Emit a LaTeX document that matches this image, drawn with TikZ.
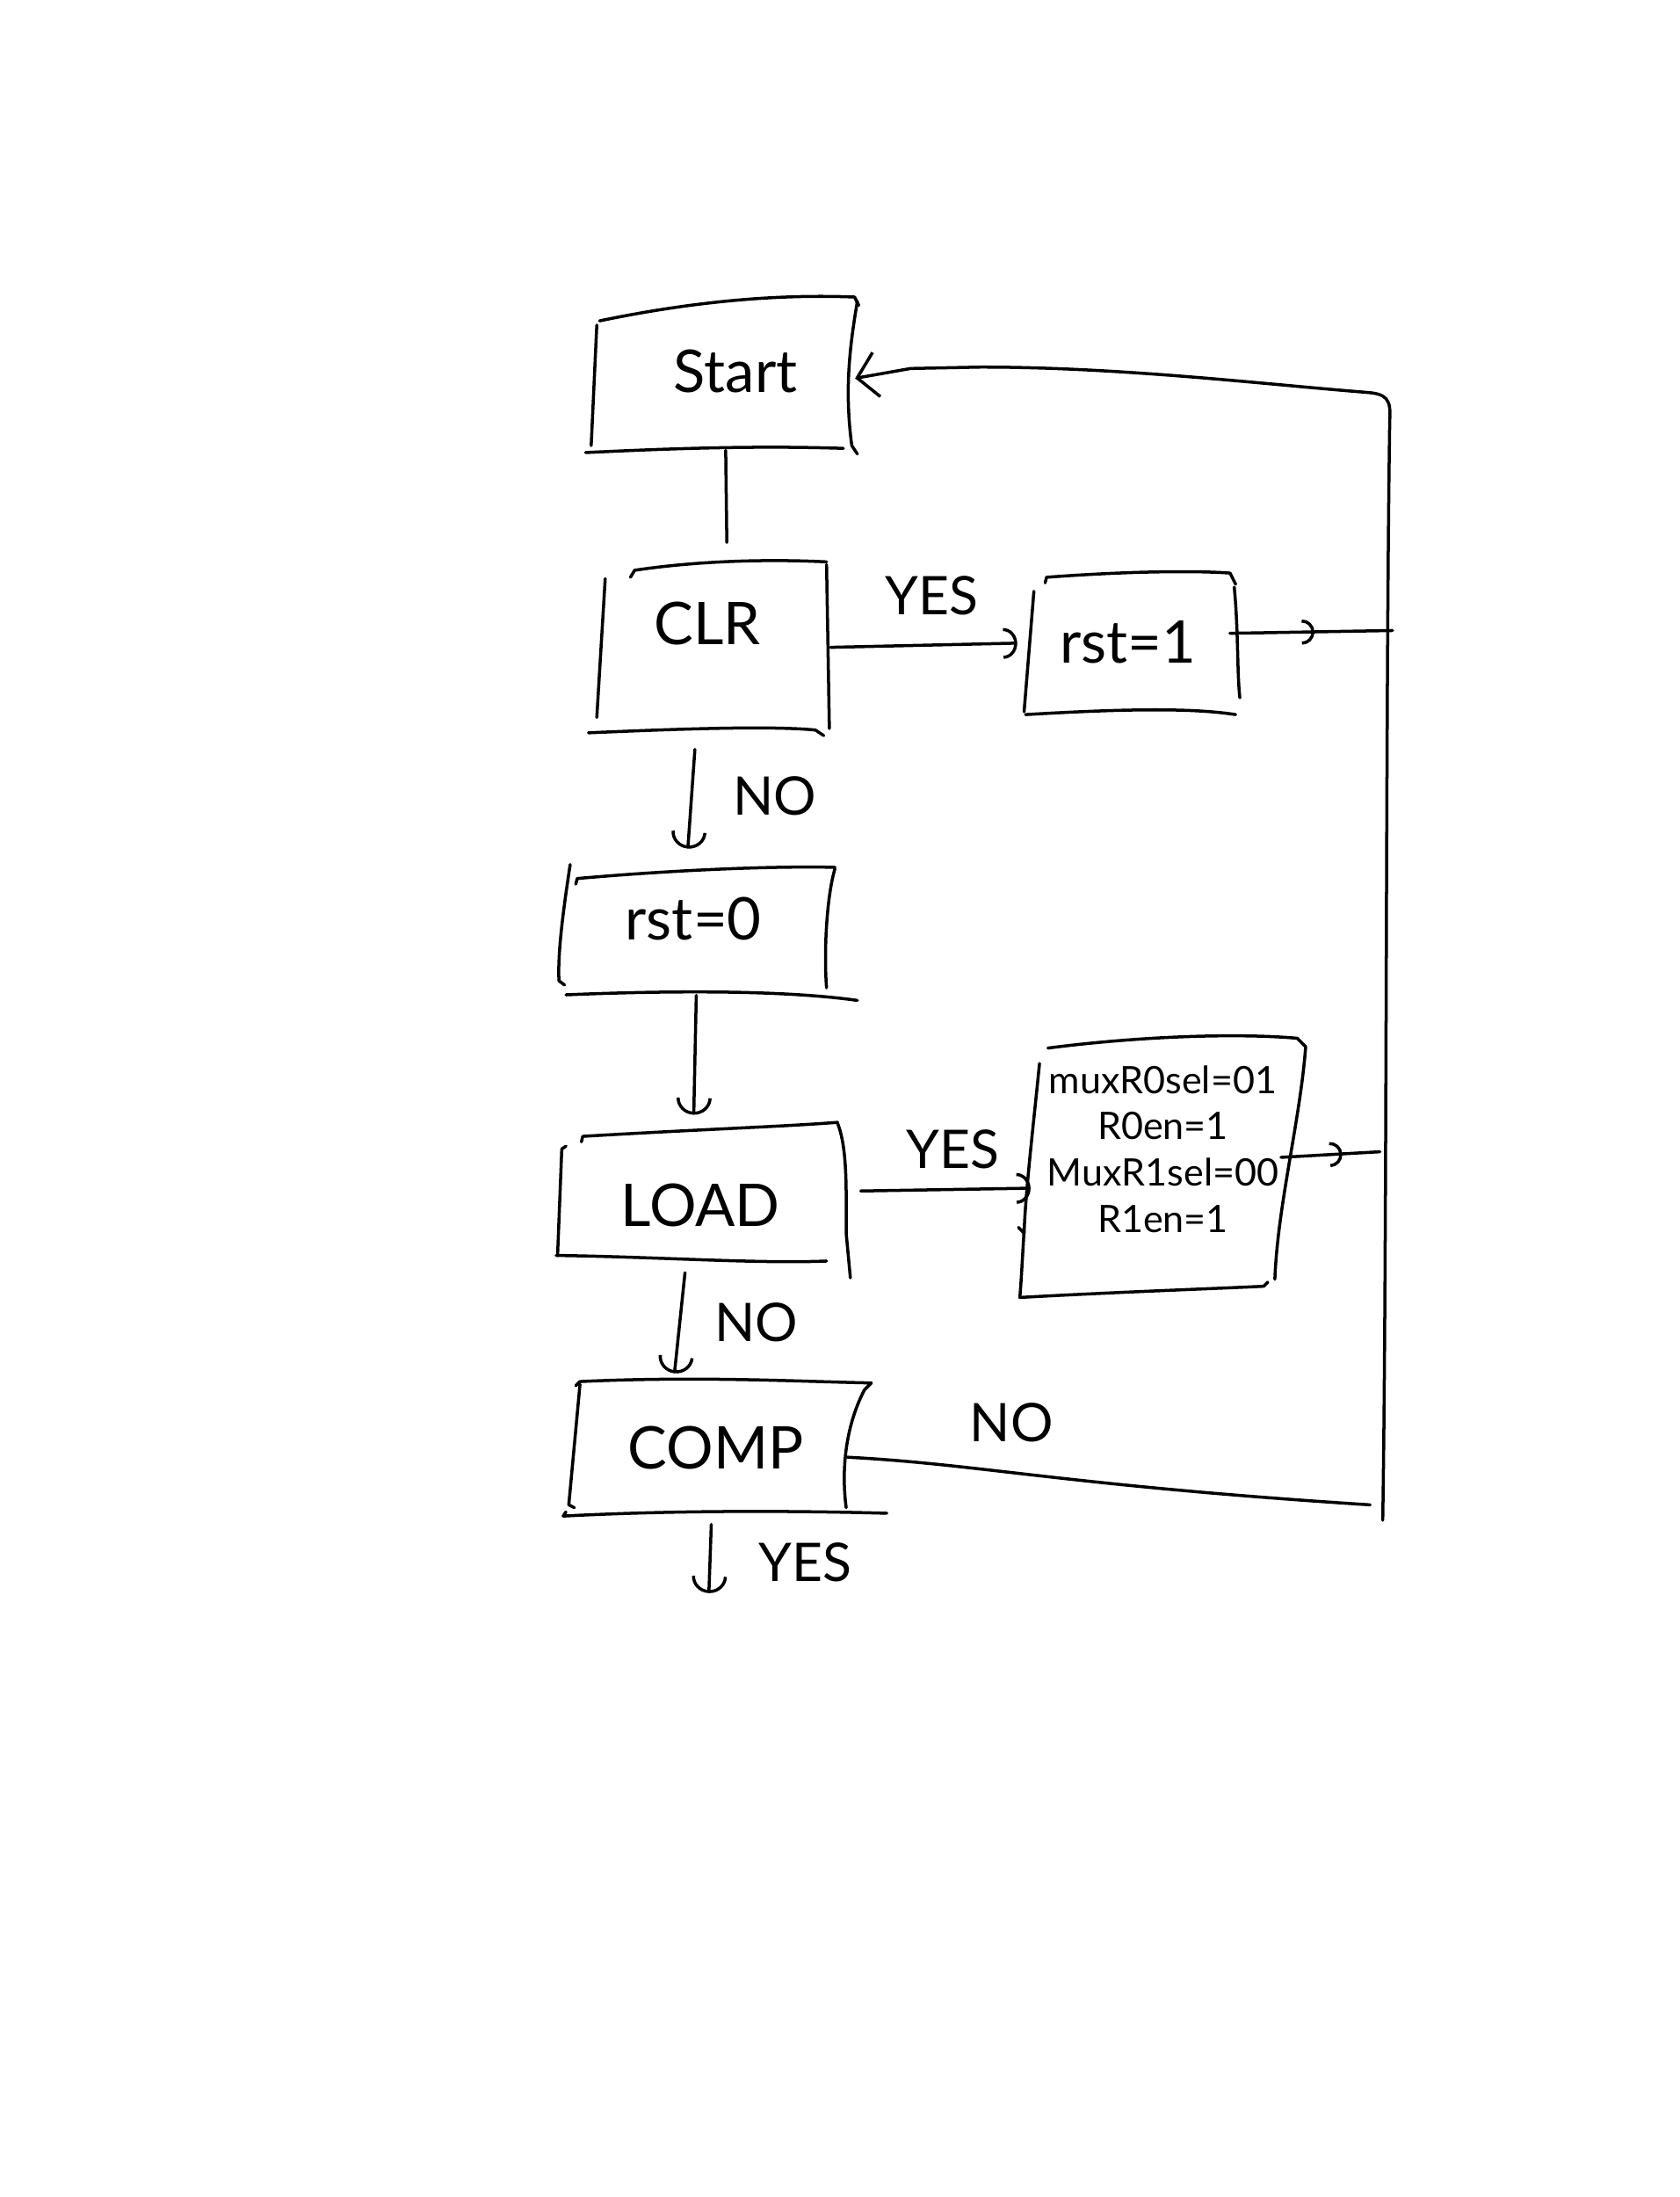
\documentclass[tikz,border=0pt]{standalone}
\usepackage{fontspec}
\setmainfont{Lato}
\usetikzlibrary{arrows.meta,decorations.markings,calc}
\begin{document}
\begin{tikzpicture}[x=0.5pt,y=-0.5pt,
  sk/.style={line width=1.1pt, line cap=round, line join=round},
  arr/.style={sk, -{Arc Barb[length=5pt,width=11pt]}},
  arrd/.style={sk, -{Arc Barb[length=6pt,width=12.5pt]}},
  arrv/.style={sk, -{Straight Barb[length=7pt,width=16pt]}},
  midarrow/.style={sk, postaction={decorate, decoration={markings,
      mark=at position #1 with {\arrow{Arc Barb[length=4.5pt,width=9pt]}}}}},
  box/.style={inner sep=0pt},
  big/.style={font=\fontsize{21}{25}\selectfont},
  lbl/.style={font=\fontsize{19}{23}\selectfont, inner sep=1pt},
  small/.style={font=\fontsize{13.5}{16.5}\selectfont, align=center},
]
\useasboundingbox (0,0) rectangle (1199,1568);

% ---- state boxes (node = outline area, text placed as centre label)
\node[box, minimum width=93pt, minimum height=51pt,
  label={[big, xshift=4pt, yshift=2.5pt]center:Start}] (start) at (517,270) {};
\node[box, minimum width=81.5pt, minimum height=58.5pt,
  label={[big, xshift=-1.5pt, yshift=8.5pt]center:CLR}] (clr) at (508,462) {};
\node[box, minimum width=74.5pt, minimum height=49pt,
  label={[big, xshift=-1pt, yshift=0.5pt]center:rst=1}] (rst1) at (807,459) {};
\node[box, minimum width=99pt, minimum height=45pt,
  label={[big, xshift=-2pt, yshift=4.5pt]center:rst=0}] (rst0) at (499,665) {};
\node[box, minimum width=102pt, minimum height=46pt,
  label={[big, yshift=-4pt]center:LOAD}] (load) at (500,852) {};
\node[box, minimum width=97pt, minimum height=91pt,
  label={[small, xshift=2.5pt, yshift=5.5pt]center:muxR0sel=01\\R0en=1\\MuxR1sel=00\\R1en=1}] (mux) at (825,831) {};
\node[box, minimum width=103.5pt, minimum height=47.5pt,
  label={[big, yshift=-0.5pt]center:COMP}] (comp) at (511,1032) {};

% ---- hand-drawn outlines
% Start
\draw[sk] (428,229) .. controls (500,214) and (560,210) .. (610,212) -- (613,218);
\draw[sk] (426,232) -- (422,318);
\draw[sk] (612,215) .. controls (606,250) and (603,280) .. (608,318) -- (612,324);
\draw[sk] (418,323) .. controls (480,320) and (540,318) .. (602,320);
% CLR
\draw[sk] (450,412) -- (453,407) .. controls (500,400) and (550,399) .. (590,401);
\draw[sk] (432,413) -- (426,512);
\draw[sk] (590,403) -- (592,520);
\draw[sk] (420,523) .. controls (490,520) and (550,518) .. (582,521) -- (588,525);
% rst=1
\draw[sk] (746,416) -- (747,412) .. controls (800,408) and (850,407) .. (878,409) -- (882,417);
\draw[sk] (738,422) -- (731,508);
\draw[sk] (881,419) .. controls (884,450) and (883,480) .. (885,498);
\draw[sk] (732,510) .. controls (800,506) and (850,505) .. (882,510);
% rst=0
\draw[sk] (407,617) .. controls (402,650) and (398,680) .. (399,700) -- (403,703);
\draw[sk] (411,631) -- (412,627) .. controls (480,621) and (550,618) .. (596,619);
\draw[sk] (596,620) .. controls (590,640) and (588,680) .. (590,705);
\draw[sk] (404,710) .. controls (500,706) and (570,708) .. (612,714);
% LOAD
\draw[sk] (404,818) -- (401,820) -- (398,896);
\draw[sk] (415,815) -- (416,811) .. controls (500,806) and (560,804) .. (598,801);
\draw[sk] (598,802) .. controls (605,820) and (604,850) .. (604,880) -- (607,912);
\draw[sk] (397,896) .. controls (470,897) and (540,902) .. (590,900);
% multiplexer settings
\draw[sk] (748,748) .. controls (810,740) and (880,737) .. (926,741) -- (932,747)
          .. controls (928,800) and (912,860) .. (910,913);
\draw[sk] (742,759) .. controls (738,800) and (732,850) .. (731,880) -- (727,876);
\draw[sk] (731,878) -- (729,912) -- (728,926) .. controls (800,922) and (860,920) .. (902,918) -- (905,915);
% COMP
\draw[sk] (411,989) -- (414,986) .. controls (500,982) and (570,986) .. (622,987) -- (617,992)
          .. controls (605,1015) and (600,1045) .. (604,1076);
\draw[sk] (414,988) -- (406,1074) -- (410,1076);
\draw[sk] (404,1079) -- (402,1082) .. controls (480,1078) and (560,1078) .. (633,1080);

% ---- return loop
\coordinate (loopBot) at (987,1085);
\coordinate (j1) at (994,450);
\coordinate (j2) at (985,822);
\coordinate (cEnd) at (978,1074);
\coordinate (yesEnd) at (506,1137);
\coordinate (bend) at (650,263);

\draw[sk] (loopBot) .. controls (990,900) and (989,500) .. (992,300)
   .. controls (993,285) and (990,281) .. (975,280)
   .. controls (900,274) and (800,262) .. (700,262) -- (bend);
\draw[arrv] (bend) -- (start.east);

% ---- connectors
\draw[sk, shorten >=8pt] ($(start.south)+(1,0)$) -- ($(clr.north)+(11,0)$);
\draw[arr] ($(clr.east)+(3,0)$) -- ($(rst1.west)+(-6,0)$);
\node[lbl] (yes1) at (665,425) {YES};
\draw[midarrow=0.52] ($(rst1.east)+(-4,-7)$) -- (j1);
\draw[arrd, shorten <=7pt, shorten >=7pt] ($(clr.south)+(-11,0)$) -- ($(rst0.north)+(-9,0)$);
\node[lbl] (no1) at (553,568) {NO};
\draw[arrd, shorten >=5pt] ($(rst0.south)+(-2,0)$) -- ($(load.north)+(-5,0)$);
\draw[arr] ($(load.east)+(12,-2)$) -- ($(mux.west)+(8,17)$);
\node[lbl] (yes2) at (680,820) {YES};
\draw[midarrow=0.62] ($(mux.east)+(-8,-5)$) -- (j2);
\draw[arrd, shorten <=5pt, shorten >=2pt] ($(load.south)+(-10,0)$) -- ($(comp.north)+(-30,0)$);
\node[lbl] (no2) at (540,944) {NO};
\draw[sk] ($(comp.east)+(-10,8)$) .. controls (700,1045) and (760,1060) .. (cEnd);
\node[lbl] (no3) at (722,1015) {NO};
\draw[arrd, shorten <=4pt] ($(comp.south)+(-3,0)$) -- (yesEnd);
\node[lbl] (yes3) at (575,1115) {YES};
\end{tikzpicture}
\end{document}
